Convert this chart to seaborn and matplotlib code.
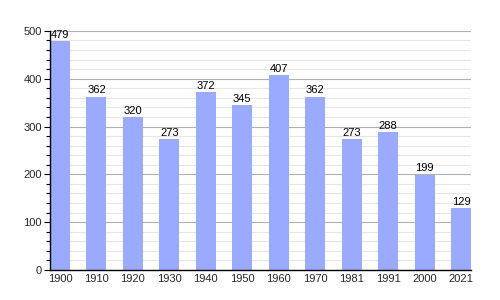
import matplotlib
matplotlib.use("Agg")
import matplotlib.pyplot as plt
import seaborn as sns
import pandas as pd
from matplotlib.ticker import MultipleLocator

years = ["1900", "1910", "1920", "1930", "1940", "1950", "1960", "1970", "1981", "1991", "2000", "2021"]
population = [479, 362, 320, 273, 372, 345, 407, 362, 273, 288, 199, 129]

df = pd.DataFrame({"year": years, "pop": population})

sns.set_style("white")
plt.rcParams['font.family'] = ['Liberation Sans', 'DejaVu Sans']

fig = plt.figure(figsize=(5, 3), dpi=100)
ax = fig.add_axes([0.1, 0.1, 0.842, 0.797])

sns.barplot(data=df, x="year", y="pop", color="#99aaff", saturation=1, width=0.55,
            linewidth=0, ax=ax, zorder=3)

ax.set_ylim(0, 500)
ax.set_xlim(-0.275, len(years) - 1 + 0.275)
ax.yaxis.set_major_locator(MultipleLocator(100))
ax.yaxis.set_minor_locator(MultipleLocator(20))
ax.grid(which="major", axis="y", color="#b0b0b0", linewidth=0.8, zorder=0)
ax.grid(which="minor", axis="y", color="#e6e6e6", linewidth=0.8, zorder=0)
ax.set_axisbelow(True)

for s in ["top", "right"]:
    ax.spines[s].set_visible(False)
for s in ["left", "bottom"]:
    ax.spines[s].set_color("black")
    ax.spines[s].set_linewidth(1.0)
    ax.spines[s].set_zorder(4)

ax.tick_params(axis="y", which="major", length=4, width=0.8, color="black", labelsize=8, pad=2, left=True)
ax.tick_params(axis="y", which="minor", length=3, width=0.8, color="black", left=True)
ax.tick_params(axis="x", length=0, labelsize=8, pad=3)
ax.set_xlabel("")
ax.set_ylabel("")

for i, v in enumerate(population):
    ax.text(i, v + 3, str(v), ha="center", va="bottom", fontsize=8, color="black", zorder=5)

fig.savefig("out.png", dpi=100)
